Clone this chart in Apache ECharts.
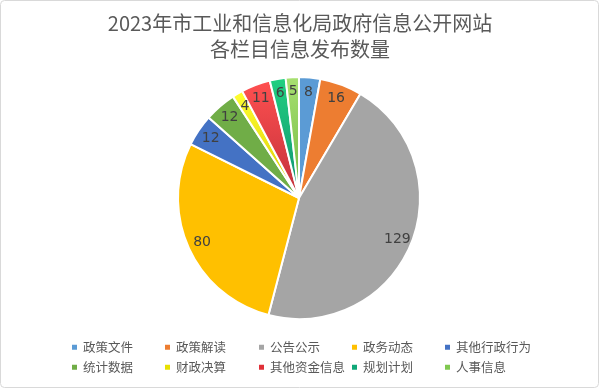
<!DOCTYPE html>
<html><head><meta charset="utf-8">
<script src="https://cdn.jsdelivr.net/npm/echarts@6/dist/echarts.min.js"></script>
<style>html,body{margin:0;padding:0;background:#fff}#c{width:600px;height:389px}</style>
</head><body><div id="c"></div>
<script>
const categories = ['政策文件','政策解读','公告公示','政务动态','其他行政行为','统计数据','财政决算','其他资金信息','规划计划','人事信息'];
const values = [8,16,129,80,12,12,4,11,6,5];
const titleLines = ['2023年市工业和信息化局政府信息公开网站','各栏目信息发布数量'];

function grad(a,b){return {type:'linear',x:0,y:0,x2:0,y2:1,colorStops:[{offset:0,color:a},{offset:1,color:b}]};}
const colors = ['#5B9BD5','#ED7D31','#A5A5A5','#FFC000','#4472C4','#70AD47',
  grad('#FFFF30','#D8C800'), grad('#FF5050','#C0303A'), grad('#20D080','#109070'), grad('#A8E070','#70B840')];
const legendColors = ['#5B9BD5','#ED7D31','#A5A5A5','#FFC000','#4472C4','#70AD47','#E8E000','#E03038','#10A878','#80C850'];

const CX = 299, CY = 198, R = 121;
const colLeft = [70, 163, 257, 350, 443];
const rowTop = [341, 361];
const legends = categories.map((n,i)=>({
  left: colLeft[i%5], top: rowTop[Math.floor(i/5)], padding:0,
  itemWidth:7, itemHeight:7, icon:'rect',
  textStyle:{fontFamily:'Noto Sans CJK SC',fontSize:12.5,color:'#595959'},
  data:[{name:n,itemStyle:{color:legendColors[i]}}]
}));
const chart = echarts.init(document.getElementById('c'));
chart.setOption({
  animation:false,
  title:{text:titleLines.join('\n'),left:'center',top:5,textStyle:{fontFamily:'Noto Sans CJK SC',fontSize:20,fontWeight:'normal',color:'#595959',lineHeight:26}},
  legend: legends,
  series:[{
    type:'pie',center:[CX,CY],radius:[0,R],startAngle:90,clockwise:true,
    data:categories.map((n,i)=>({name:n,value:values[i],itemStyle:{color:colors[i]}})),
    itemStyle:{borderColor:'#fff',borderWidth:2},
    label:{show:false},labelLine:{show:false}
  },{
    type:'pie',center:[CX,CY],radius:[86,R],startAngle:90,clockwise:true,silent:true,
    legendHoverLink:false,
    data:categories.map((n,i)=>({name:n,value:values[i],itemStyle:{color:'rgba(0,0,0,0)'}})),
    itemStyle:{borderWidth:0},
    label:{show:true,position:'inside',formatter:'{c}',fontFamily:'DejaVu Sans',fontSize:14,color:'#404040'},
    labelLine:{show:false},
    labelLayout:{hideOverlap:false},
    emphasis:{disabled:true}
  }],
  graphic:[{type:'rect',shape:{x:0.5,y:0.5,width:598,height:387,r:4},style:{fill:'none',stroke:'#d9d9d9',lineWidth:1}}]
});
</script></body></html>
